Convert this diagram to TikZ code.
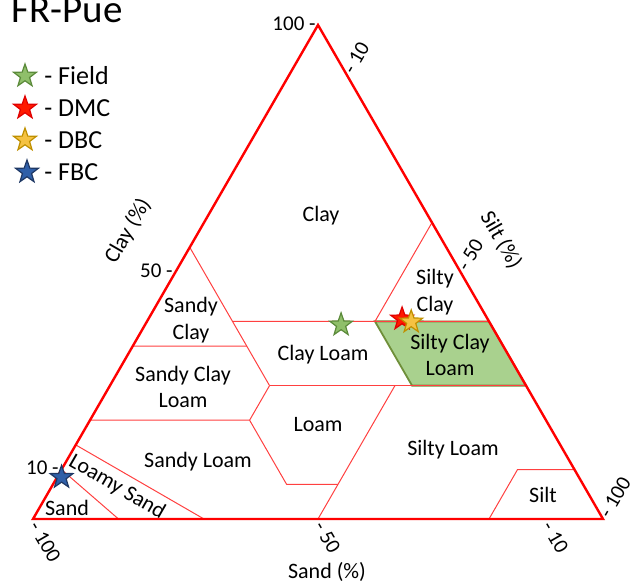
\documentclass[tikz,border=0pt]{standalone}
\usepackage{fontspec}
\setmainfont{Carlito}
\usetikzlibrary{shapes.geometric}
\definecolor{sclfill}{HTML}{A9D18E}
\definecolor{sclline}{HTML}{6F8F3A}
\definecolor{fieldfill}{HTML}{8FBF6A}
\definecolor{fieldline}{HTML}{5B8A3A}
\definecolor{dmcfill}{HTML}{FF1A00}
\definecolor{dmcline}{HTML}{E00000}
\definecolor{dbcfill}{HTML}{F5C242}
\definecolor{dbcline}{HTML}{BF9000}
\definecolor{fbcfill}{HTML}{2F5FA8}
\definecolor{fbcline}{HTML}{1F3864}
% sand, silt, clay as fractions
\def\soil#1#2#3{(barycentric cs:sand=#1,silt=#2,clay=#3)}
\def\dred{\draw[red!75,line width=0.5pt]}
\tikzset{
  zone/.style={align=center,inner sep=0pt,font=\fontsize{11}{13.2}\selectfont},
  ticklab/.style={inner sep=1pt,font=\fontsize{10.5}{12}\selectfont},
  axislab/.style={inner sep=0pt,font=\fontsize{11}{13}\selectfont},
  legtext/.style={anchor=west,inner sep=0pt,font=\fontsize{13}{15}\selectfont},
  sstar/.style={star,star points=5,star point ratio=2.5,minimum size=12pt,
    inner sep=0pt,line width=0.6pt}
}

\begin{document}
\begin{tikzpicture}[x=0.5pt,y=-0.5pt]
  \useasboundingbox (0,0) rectangle (632,583);
  \coordinate (sand) at (33,519);
  \coordinate (silt) at (603,519);
  \coordinate (clay) at (318,25);

  % silty clay loam
  \fill[sclfill,draw=sclline,line width=0.9pt] \soil{.20}{.40}{.40} -- \soil{0}{.60}{.40}
    -- \soil{0}{.73}{.27} -- \soil{.20}{.53}{.27} -- cycle;

  % class borders
  \dred \soil{.45}{.15}{.40} -- \soil{0}{.60}{.40};
  \dred \soil{.45}{0}{.55} -- \soil{.45}{.28}{.27};
  \dred \soil{.65}{0}{.35} -- \soil{.45}{.20}{.35};
  \dred \soil{.45}{.28}{.27} -- \soil{0}{.73}{.27};
  \dred \soil{0}{.40}{.60} -- \soil{.20}{.40}{.40};
  \dred \soil{.80}{0}{.20} -- \soil{.52}{.28}{.20} -- \soil{.45}{.28}{.27};
  \dred \soil{.52}{.28}{.20} -- \soil{.52}{.41}{.07} -- \soil{.43}{.50}{.07};
  \dred \soil{.23}{.50}{.27} -- \soil{.50}{.50}{0};
  \dred \soil{.85}{0}{.15} -- \soil{.70}{.30}{0};
  \dred \soil{.90}{0}{.10} -- \soil{.85}{.15}{0};
  \dred \soil{.20}{.80}{0} -- \soil{.10}{.80}{.10} -- \soil{0}{.90}{.10};

  \draw[red,line width=1.2pt] (sand) -- (silt) -- (clay) -- cycle;

  % class names
  \node[zone] (zclay) at (321,216) {Clay};
  \node[zone] (zsiltyclay) at (435,292) {Silty\\Clay};
  \node[zone] (zsandyclay) at (191,320) {Sandy\\Clay};
  \node[zone] (zclayloam) at (323,355) {Clay Loam};
  \node[zone] (zsiltyclayloam) at (450,355) {Silty Clay\\Loam};
  \node[zone] (zsandyclayloam) at (183,387) {Sandy Clay\\Loam};
  \node[zone] (zloam) at (318,425) {Loam};
  \node[zone] (zsiltyloam) at (453,450) {Silty Loam};
  \node[zone] (zsandyloam) at (198,462) {Sandy Loam};
  \node[zone,rotate=-30] (zloamysand) at (117,487) {Loamy Sand};
  \node[zone] (zsand) at (67,508) {Sand};
  \node[zone] (zsilt) at (543,495) {Silt};

  % axis ticks
  \node[ticklab,anchor=east] (c100) at (318,24) {100 -};
  \node[ticklab,anchor=east] (c50) at (175,271) {50 -};
  \node[ticklab,anchor=east] (c10) at (61,468) {10 -};
  \node[ticklab,anchor=west,rotate=-60] (s100) at (33,521) {- 100};
  \node[ticklab,anchor=west,rotate=-60] (s50) at (318,521) {- 50};
  \node[ticklab,anchor=west,rotate=-60] (s10) at (546,521) {- 10};
  \node[ticklab,anchor=west,rotate=60] (t10) at (347,74) {- 10};
  \node[ticklab,anchor=west,rotate=60] (t50) at (461,271) {- 50};
  \node[ticklab,anchor=west,rotate=60] (t100) at (603,518) {- 100};

  \node[axislab,rotate=60] (clayaxis) at (128,231) {Clay (\%)};
  \node[axislab,rotate=-60] (siltaxis) at (501,240) {Silt (\%)};
  \node[axislab] (sandaxis) at (327,572) {Sand (\%)};

  % title and legend
  \node[anchor=base west,inner sep=0pt,font=\fontsize{19.5}{23}\selectfont]
    (title) at (11,23) {FR-Pue};
  \node[sstar,fill=fieldfill,draw=fieldline] (lfield) at (25,76) {};
  \node[sstar,fill=dmcfill,draw=dmcline] (ldmc) at (25,108) {};
  \node[sstar,fill=dbcfill,draw=dbcline] (ldbc) at (25,140) {};
  \node[sstar,fill=fbcfill,draw=fbcline] (lfbc) at (27,172) {};
  \node[legtext] (tfield) at (44,76) {- Field};
  \node[legtext] (tdmc) at (44,108) {- DMC};
  \node[legtext] (tdbc) at (44,140) {- DBC};
  \node[legtext] (tfbc) at (44,172) {- FBC};

  % samples
  \path \soil{.263}{.344}{.393} node[sstar,fill=fieldfill,draw=fieldline] (field) {};
  \path \soil{.15}{.445}{.405} node[sstar,fill=dmcfill,draw=dmcline] (dmc) {};
  \path \soil{.137}{.464}{.399} node[sstar,fill=dbcfill,draw=dbcline] (dbc) {};
  \path \soil{.915}{.008}{.085} node[sstar,fill=fbcfill,draw=fbcline] (fbc) {};
\end{tikzpicture}
\end{document}
